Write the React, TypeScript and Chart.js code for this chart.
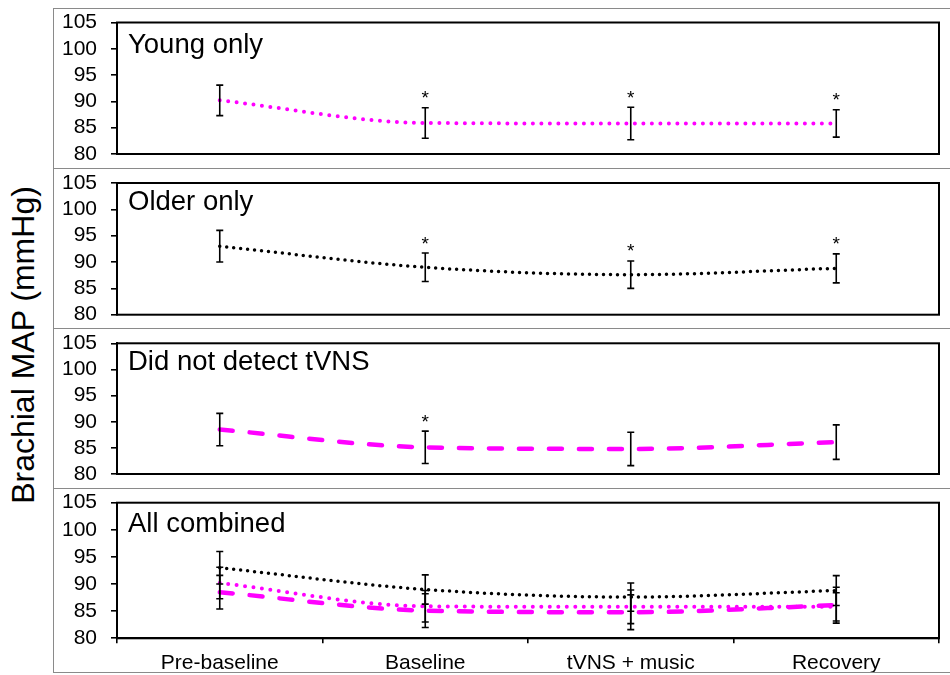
import React, { useEffect, useRef } from "react";
import { Chart, registerables } from "chart.js";

Chart.register(...registerables);

// ---------- data ----------
const categories = ["Pre-baseline", "Baseline", "tVNS + music", "Recovery"];
const yTickValues = [80, 85, 90, 95, 100, 105];

const youngMean = [90.2, 85.9, 85.8, 85.8];
const youngErr = [2.9, 2.9, 3.1, 2.6];
const youngSig = [false, true, true, true];

const olderMean = [93.0, 89.0, 87.6, 88.8];
const olderErr = [3.0, 2.7, 2.6, 2.75];
const olderSig = [false, true, true, true];

const notDetectMean = [88.5, 85.1, 84.8, 86.1];
const notDetectErr = [3.1, 3.1, 3.2, 3.3];
const notDetectSig = [false, true, false, false];

const panelTitles = ["Young only", "Older only", "Did not detect tVNS", "All combined"];
const yAxisTitle = "Brachial MAP (mmHg)";

// ---------- styles ----------
const FONT = "'Liberation Sans', Arial, Helvetica, sans-serif";

type Series = {
  mean: number[];
  err: number[];
  sig: boolean[];
  color: string;
  width: number;
  dash: number[];
};

const young: Series = { mean: youngMean, err: youngErr, sig: youngSig, color: "#FF00FF", width: 4, dash: [0, 8.5] };
const older: Series = { mean: olderMean, err: olderErr, sig: olderSig, color: "#000000", width: 3.5, dash: [0, 7] };
const notDetect: Series = { mean: notDetectMean, err: notDetectErr, sig: notDetectSig, color: "#FF00FF", width: 4.5, dash: [13, 17] };

type PanelCfg = {
  title: string;
  top: number;
  bottom: number;
  plotTop: number;
  plotBottom: number;
  series: Series[];
  showX: boolean;
  showSig: boolean;
  titleOffset: number;
};

const panels: PanelCfg[] = [
  { title: panelTitles[0], top: 9, bottom: 168, plotTop: 22.5, plotBottom: 154, series: [young], showX: false, showSig: true, titleOffset: 30 },
  { title: panelTitles[1], top: 169, bottom: 328, plotTop: 183, plotBottom: 314.7, series: [older], showX: false, showSig: true, titleOffset: 26.5 },
  { title: panelTitles[2], top: 329, bottom: 488, plotTop: 343.3, plotBottom: 474, series: [notDetect], showX: false, showSig: true, titleOffset: 26.5 },
  { title: panelTitles[3], top: 489, bottom: 672, plotTop: 502.7, plotBottom: 638.3, series: [older, young, notDetect], showX: true, showSig: false, titleOffset: 29 },
];

const CANVAS_LEFT = 54;
const CANVAS_WIDTH = 896;
const PLOT_LEFT = 117;
const PLOT_RIGHT = 939;

function Panel({ cfg }: { cfg: PanelCfg }) {
  const ref = useRef<HTMLCanvasElement>(null);
  const height = cfg.bottom - cfg.top;

  useEffect(() => {
    const canvas = ref.current;
    if (!canvas) return;

    const overlay = {
      id: "overlay",
      afterDatasetsDraw(chart: any) {
        const ctx = chart.ctx;
        const xs = chart.scales.x;
        const ys = chart.scales.y;
        const area = chart.chartArea;
        ctx.save();
        // error bars
        ctx.strokeStyle = "#000";
        ctx.lineWidth = 1.6;
        ctx.lineCap = "butt";
        cfg.series.forEach((s) => {
          s.mean.forEach((m, i) => {
            const x = xs.getPixelForValue(i);
            const yT = ys.getPixelForValue(m + s.err[i]);
            const yB = ys.getPixelForValue(m - s.err[i]);
            ctx.beginPath();
            ctx.moveTo(x, yT);
            ctx.lineTo(x, yB);
            ctx.moveTo(x - 3.5, yT);
            ctx.lineTo(x + 3.5, yT);
            ctx.moveTo(x - 3.5, yB);
            ctx.lineTo(x + 3.5, yB);
            ctx.stroke();
          });
        });
        // asterisks
        if (cfg.showSig) {
          ctx.fillStyle = "#000";
          ctx.font = `19px ${FONT}`;
          ctx.textAlign = "center";
          ctx.textBaseline = "alphabetic";
          cfg.series.forEach((s) => {
            s.mean.forEach((m, i) => {
              if (!s.sig[i]) return;
              const x = xs.getPixelForValue(i);
              const yT = ys.getPixelForValue(m + s.err[i]);
              ctx.fillText("*", x, yT - 3.5);
            });
          });
        }
        // plot box
        ctx.strokeStyle = "#000";
        ctx.lineWidth = 2;
        ctx.strokeRect(area.left, area.top, area.right - area.left, area.bottom - area.top);
        // panel title
        ctx.fillStyle = "#000";
        ctx.font = `27.5px ${FONT}`;
        ctx.textAlign = "left";
        ctx.textBaseline = "alphabetic";
        ctx.fillText(cfg.title, area.left + 11, area.top + cfg.titleOffset);
        ctx.restore();
      },
    };

    const padRight = CANVAS_LEFT + CANVAS_WIDTH - PLOT_RIGHT;

    const chart: any = new Chart(canvas, {
      type: "line",
      data: {
        labels: categories,
        datasets: cfg.series.map((s) => ({
          data: s.mean,
          borderColor: s.color,
          backgroundColor: s.color,
          borderWidth: s.width,
          borderDash: s.dash,
          borderCapStyle: "round",
          pointRadius: 0,
          pointHoverRadius: 0,
          cubicInterpolationMode: "monotone",
          fill: false,
        })),
      },
      options: {
        animation: false,
        responsive: false,
        events: [],
        layout: {
          padding: {
            top: cfg.plotTop - cfg.top,
            bottom: cfg.showX ? 0 : cfg.bottom - cfg.plotBottom,
            left: 0,
            right: padRight,
          },
        },
        plugins: {
          legend: { display: false },
          tooltip: { enabled: false },
        },
        scales: {
          x: {
            display: cfg.showX,
            offset: true,
            grid: {
              offset: true,
              drawOnChartArea: false,
              drawTicks: true,
              tickLength: 5,
              color: "#000",
              lineWidth: 1.6,
            },
            border: { display: true, color: "#000", width: 2 },
            ticks: {
              color: "#000",
              font: { family: FONT, size: 21 },
              padding: 7,
              maxRotation: 0,
              autoSkip: false,
            },
            afterFit: (s: any) => {
              s.height = cfg.showX ? cfg.bottom - cfg.plotBottom : 0;
              s.paddingLeft = 0;
              s.paddingRight = 0;
              s.paddingTop = 0;
              s.paddingBottom = 0;
            },
          },
          y: {
            min: yTickValues[0],
            max: yTickValues[yTickValues.length - 1],
            afterBuildTicks: (s: any) => {
              s.ticks = yTickValues.map((v) => ({ value: v }));
            },
            grid: {
              drawOnChartArea: false,
              drawTicks: true,
              tickLength: 6,
              color: "#000",
              lineWidth: 1.6,
            },
            border: { display: true, color: "#000", width: 2 },
            ticks: {
              color: "#000",
              font: { family: FONT, size: 21, lineHeight: 1 },
              padding: 14,
              autoSkip: false,
            },
            afterFit: (s: any) => {
              s.width = PLOT_LEFT - CANVAS_LEFT;
              s.paddingTop = 0;
              s.paddingBottom = 0;
              s.paddingLeft = 0;
              s.paddingRight = 0;
            },
          },
        },
      } as any,
      plugins: [overlay],
    });

    return () => chart.destroy();
  }, []);

  return (
    <canvas
      ref={ref}
      width={CANVAS_WIDTH}
      height={height}
      style={{ position: "absolute", left: CANVAS_LEFT, top: cfg.top, width: CANVAS_WIDTH, height }}
    />
  );
}

export default function App() {
  const frameColor = "#8a8a8a";
  return (
    <div style={{ position: "fixed", left: 0, top: 0, width: 950, height: 675, background: "#fff", overflow: "hidden" }}>
      {/* outer frame */}
      <div style={{ position: "absolute", left: 53, top: 8, width: 1, height: 665, background: frameColor }} />
      <div style={{ position: "absolute", left: 53, top: 8, width: 897, height: 1, background: frameColor }} />
      <div style={{ position: "absolute", left: 53, top: 672, width: 897, height: 1, background: frameColor }} />
      {[168, 328, 488].map((y) => (
        <div key={y} style={{ position: "absolute", left: 53, top: y, width: 897, height: 1, background: frameColor }} />
      ))}
      {panels.map((p, i) => (
        <Panel key={i} cfg={p} />
      ))}
      <div
        style={{
          position: "absolute",
          left: 3 - 180,
          top: 345 - 20,
          width: 400,
          height: 40,
          lineHeight: "40px",
          fontSize: 32,
          fontFamily: FONT,
          color: "#000",
          textAlign: "center",
          whiteSpace: "nowrap",
          transform: "rotate(-90deg)",
          transformOrigin: "center center",
        }}
      >
        {yAxisTitle}
      </div>
    </div>
  );
}
